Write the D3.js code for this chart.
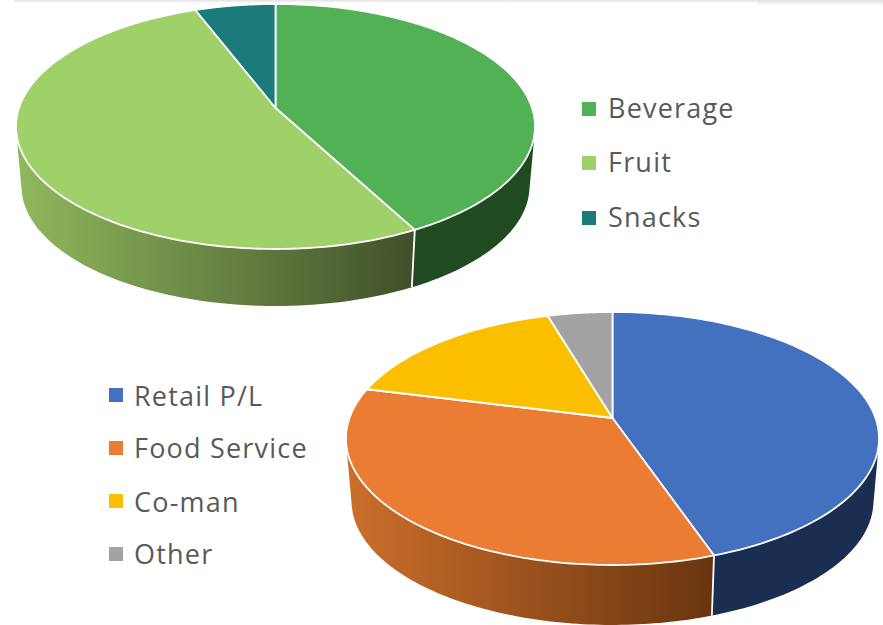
<!DOCTYPE html>
<html>
<head>
<meta charset="utf-8">
<script src="https://cdn.jsdelivr.net/npm/d3@7"></script>
<style>
  html, body { margin: 0; padding: 0; background: #fff; }
  svg { display: block; }
  text { font-family: "Open Sans", sans-serif; fill: #595959; }
</style>
</head>
<body>
<svg id="chart" width="883" height="625"></svg>
<script>
// Sales mix by product family
const productCategories = ["Beverage", "Fruit", "Snacks"];
const productValues = [42.2, 52, 5.8];
const productColors = ["#52b055", "#9fd06a", "#1b7b7b"];

// Sales mix by channel
const channelCategories = ["Retail P/L", "Food Service", "Co-man", "Other"];
const channelValues = [44.7, 34.2, 16.5, 4.6];
const channelColors = ["#4371c0", "#ea7c33", "#fbbf00", "#a3a3a3"];

const svg = d3.select("#chart");
const defs = svg.append("defs");

// Perspective tilt of a unit disc: nearer points spread out, so the hub sits above the ellipse centre.
function projector(view) {
  return (angle, rim, lift) => {
    const u = rim * Math.sin(angle), v = -rim * Math.cos(angle);
    const w = 1 - view.k * v;
    const s = lift ? view.baseScale : 1;
    return [view.cx + s * view.bx * u / w,
            view.hubY + (lift ? view.drop : 0) + s * view.ay * v / w];
  };
}

function drawPie(view, values, colors, wallFills) {
  const project = projector(view);
  const g = svg.append("g");
  const arcs = d3.pie().sort(null)(values);
  const line = d3.line();
  const stepped = (a0, a1) => d3.range(0, 121).map(i => a0 + (a1 - a0) * i / 120);

  // Side wall of each wedge: small quads wound the same way, so the fill is their union
  arcs.forEach((d, i) => {
    const steps = stepped(d.startAngle, d.endAngle);
    const quads = d3.pairs(steps).map(([a, b]) => {
      const quad = [project(a, 1, false), project(b, 1, false), project(b, 1, true), project(a, 1, true)];
      if (d3.polygonArea(quad) < 0) quad.reverse();
      return line(quad) + "Z";
    });
    g.append("path").attr("d", quads.join("")).attr("fill", wallFills[i]);
  });

  // Seams on the wall where wedges meet at the front
  arcs.forEach(d => {
    const a = d.endAngle;
    if (Math.cos(a) < 0) {
      g.append("path")
        .attr("d", line([project(a, 1, false), project(a, 1, true)]))
        .attr("stroke", "#fff").attr("stroke-width", 1.8).attr("fill", "none");
    }
  });

  // Top face wedges
  arcs.forEach((d, i) => {
    const steps = stepped(d.startAngle, d.endAngle);
    const pts = [project(0, 0, false)].concat(steps.map(a => project(a, 1, false)));
    g.append("path").attr("d", line(pts) + "Z")
      .attr("fill", colors[i])
      .attr("stroke", "#fff").attr("stroke-width", 1.8)
      .attr("stroke-linejoin", "round");
  });
}

function wallGradient(id, x1, x2, from, to) {
  const grad = defs.append("linearGradient").attr("id", id)
    .attr("gradientUnits", "userSpaceOnUse")
    .attr("x1", x1).attr("x2", x2).attr("y1", 0).attr("y2", 0);
  grad.append("stop").attr("offset", 0).attr("stop-color", from);
  grad.append("stop").attr("offset", 1).attr("stop-color", to);
  return `url(#${id})`;
}

function drawLegend(names, colors, x, textX, centers, baselines, spacing) {
  const g = svg.append("g");
  names.forEach((name, i) => {
    g.append("rect").attr("x", x).attr("y", centers[i] - 7)
      .attr("width", 14).attr("height", 14).attr("fill", colors[i]);
    g.append("text").attr("x", textX).attr("y", baselines[i])
      .attr("font-size", 27).attr("letter-spacing", spacing).text(name);
  });
}

// Faint rule along the top edge of the sheet
const edge = defs.append("linearGradient").attr("id", "topEdge")
  .attr("x1", 0).attr("x2", 0).attr("y1", 0).attr("y2", 1);
edge.append("stop").attr("offset", 0).attr("stop-color", "#e2e2e2");
edge.append("stop").attr("offset", 1).attr("stop-color", "#ffffff");
svg.append("rect").attr("x", 14).attr("y", 0).attr("width", 744).attr("height", 3).attr("fill", "url(#topEdge)");
svg.append("rect").attr("x", 758).attr("y", 0).attr("width", 125).attr("height", 6).attr("fill", "url(#topEdge)");

drawPie(
  { cx: 275.5, hubY: 108, k: 0.151, bx: 256.5, ay: 119.7, baseScale: 0.979, drop: 60 },
  productValues, productColors,
  ["#204a20",
   wallGradient("fruitWall", 20, 413, "#8fb85c", "#41502a"),
   "#1b6060"]
);
drawPie(
  { cx: 612.5, hubY: 418, k: 0.162, bx: 263, ay: 123.2, baseScale: 0.979, drop: 63 },
  channelValues, channelColors,
  ["#1a2e52",
   wallGradient("foodWall", 350, 711, "#cb6e2b", "#69350f"),
   "#a07800", "#707070"]
);

drawLegend(productCategories, productColors, 582, 608, [109, 163, 218], [118, 172, 227], 1.2);
drawLegend(channelCategories, channelColors, 109, 134, [395, 448, 501, 554], [406, 458, 512, 564], 1.2);
</script>
</body>
</html>
